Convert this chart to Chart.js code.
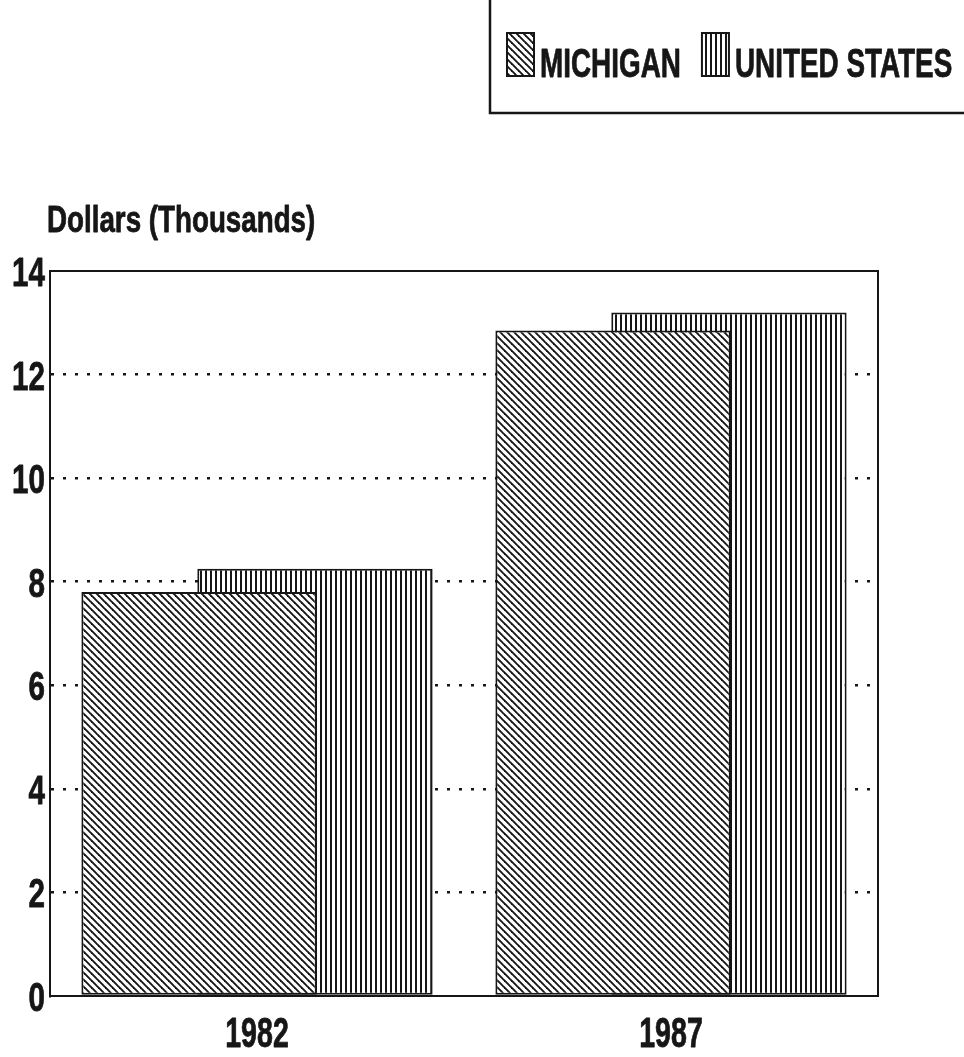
<!DOCTYPE html>
<html>
<head>
<meta charset="utf-8">
<title>Michigan / United States</title>
<script src="https://cdn.jsdelivr.net/npm/chart.js@4.4.1/dist/chart.umd.min.js"></script>
<style>
  html, body { margin: 0; padding: 0; background: #fff; }
  #wrap { width: 964px; height: 1057px; }
</style>
</head>
<body>
<div id="wrap"><canvas id="chart"></canvas></div>
<script>
// --- DATA ---
const years = ['1982', '1987'];
const michigan = [7.8, 12.85];
const unitedStates = [8.25, 13.2];
const yTicks = [0, 2, 4, 6, 8, 10, 12, 14];
const seriesNames = ['MICHIGAN', 'UNITED STATES'];
const axisTitle = 'Dollars (Thousands)';

const INK = '#161616';
const FONT = "'Liberation Sans', Arial, sans-serif";

const canvas = document.getElementById('chart');
const mainCtx = canvas.getContext('2d');

// --- HATCH PATTERNS ---
function hatch(kind) {
    const tile = document.createElement('canvas');
    const t = tile.getContext('2d');
    if (kind === 'diag') {
        tile.width = tile.height = 7;
        t.fillStyle = '#fff';
        t.fillRect(0, 0, 7, 7);
        t.strokeStyle = INK;
        t.lineWidth = 1.9;
        for (const k of [-7, 0, 7]) {
            t.beginPath();
            t.moveTo(k - 1, -1);
            t.lineTo(k + 8, 8);
            t.stroke();
        }
    } else {
        tile.width = 5; tile.height = 5;
        t.fillStyle = '#fff';
        t.fillRect(0, 0, 5, 5);
        t.fillStyle = INK;
        t.fillRect(0, 0, 2, 5);
    }
    return mainCtx.createPattern(tile, 'repeat');
}

// bold sans squeezed sideways (plus a thin outline so it prints heavier)
function narrow(ctx, text, x, y, size, align, sx) {
    ctx.save();
    ctx.font = `bold ${size}px ${FONT}`;
    ctx.fillStyle = INK;
    ctx.strokeStyle = INK;
    ctx.lineWidth = 0.8;
    ctx.lineJoin = 'round';
    ctx.textAlign = align;
    ctx.textBaseline = 'alphabetic';
    ctx.translate(x, y);
    ctx.scale(sx, 1);
    ctx.fillText(text, 0, 0);
    ctx.strokeText(text, 0, 0);
    const w = ctx.measureText(text).width * sx;
    ctx.restore();
    return w;
}

// --- FRAME, LABELS AND LEGEND ---
const decorations = {
    id: 'decorations',
    afterDraw(chart) {
        const { ctx, chartArea: a, scales } = chart;

        // top and right edges of the plot box
        ctx.save();
        ctx.strokeStyle = INK;
        ctx.lineWidth = 2;
        ctx.beginPath();
        ctx.moveTo(a.left, a.top);
        ctx.lineTo(a.right, a.top);
        ctx.lineTo(a.right, a.bottom);
        ctx.stroke();
        ctx.restore();

        // y tick labels
        scales.y.ticks.forEach(t => {
            narrow(ctx, String(t.value), a.left - 5, scales.y.getPixelForValue(t.value) + 15, 40, 'right', 0.74);
        });

        // category labels
        chart.data.labels.forEach((lab, i) => {
            narrow(ctx, lab, scales.x.getPixelForTick(i), a.bottom + 51, 42, 'center', 0.68);
        });

        // axis title above the plot
        narrow(ctx, axisTitle, a.left - 3, a.top - 39, 37, 'left', 0.75);

        // legend
        let x = 507;
        chart.data.datasets.forEach(ds => {
            ctx.save();
            ctx.fillStyle = ds.backgroundColor;
            ctx.fillRect(x, 33, 27, 43);
            ctx.strokeStyle = INK;
            ctx.lineWidth = 2;
            ctx.strokeRect(x, 33, 27, 43);
            ctx.restore();
            x += 33;
            x += narrow(ctx, ds.label, x, 77, 41, 'left', 0.68) + 21;
        });

        ctx.save();
        ctx.strokeStyle = INK;
        ctx.lineWidth = 2.5;
        ctx.beginPath();
        ctx.moveTo(490, -5);
        ctx.lineTo(490, 113);
        ctx.lineTo(chart.width + 5, 113);
        ctx.stroke();
        ctx.restore();
    }
};

new Chart(canvas, {
    type: 'bar',
    data: {
        labels: years,
        datasets: [
            {
                label: seriesNames[0],
                data: michigan,
                backgroundColor: hatch('diag'),
                borderColor: INK,
                borderWidth: 2,
                borderSkipped: false
            },
            {
                label: seriesNames[1],
                data: unitedStates,
                backgroundColor: hatch('vert'),
                borderColor: INK,
                borderWidth: 2,
                borderSkipped: false
            }
        ]
    },
    options: {
        responsive: true,
        maintainAspectRatio: false,
        animation: false,
        devicePixelRatio: 1,
        categoryPercentage: 0.56,
        barPercentage: 2.03,
        layout: { padding: { top: 271, left: 50, right: 86, bottom: 61 } },
        plugins: {
            legend: { display: false },
            tooltip: { enabled: false }
        },
        scales: {
            x: {
                grid: { display: false, drawTicks: false },
                border: { display: true, color: INK, width: 2 },
                ticks: { display: false },
                afterFit: (s) => { s.height = 0; }
            },
            y: {
                min: 0,
                max: 14,
                afterBuildTicks: (s) => { s.ticks = yTicks.map(v => ({ value: v })); },
                afterFit: (s) => { s.width = 0; },
                grid: {
                    drawTicks: false,
                    lineWidth: 2.5,
                    color: (c) => (c.tick && (c.tick.value === 0 || c.tick.value === 14)) ? 'rgba(0,0,0,0)' : INK
                },
                border: { display: true, color: INK, width: 2, dash: [3, 9] },
                ticks: { display: false }
            }
        }
    },
    plugins: [decorations]
});
</script>
</body>
</html>
